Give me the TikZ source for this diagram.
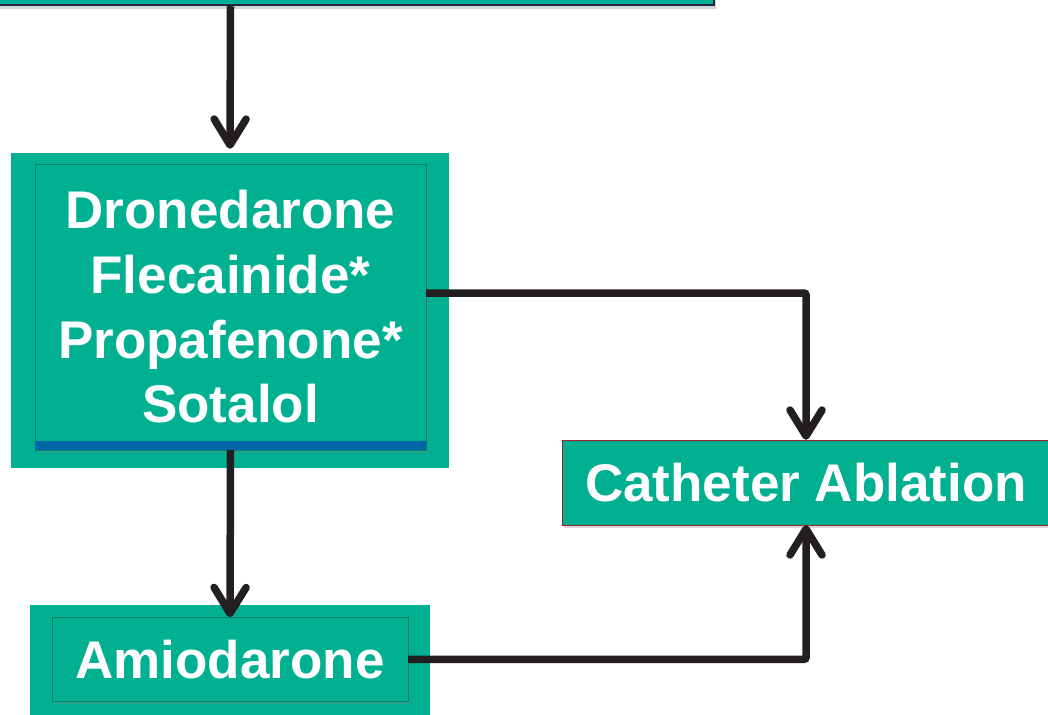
\documentclass[tikz,border=0pt]{standalone}
\usepackage{fontspec}
\setmainfont{Liberation Sans}
\usepackage{tikz}
\usetikzlibrary{arrows.meta,positioning,shadows}
\definecolor{afteal}{RGB}{0,176,144}
\definecolor{afdarkteal}{RGB}{0,130,106}
\definecolor{afblue}{RGB}{0,102,166}
\definecolor{afnavy}{RGB}{30,38,70}
\definecolor{afline}{RGB}{35,31,32}
\definecolor{afred}{RGB}{170,30,40}
\tikzstyle{drugbox} = [rectangle, text centered, align=center, fill=afteal, draw=afdarkteal, thin, text=white, inner sep=0pt, font=\fontsize{53}{64.7}\selectfont\bfseries, drop shadow={shadow xshift=1.5pt, shadow yshift=-3pt, opacity=0.3}]
\tikzstyle{backbox} = [rectangle, fill=afteal, inner sep=0pt]
\tikzstyle{arrow} = [line width=7.5pt, ->, >={Straight Barb[length=26pt, width=32pt, round]}, color=afline, rounded corners=2pt]

\begin{document}
\begin{tikzpicture}[x=1pt, y=-1pt]
\useasboundingbox (0,0) rectangle (1048,714);
\clip (0,0) rectangle (1048,714);
% boxes
\node (top) [rectangle, fill=afteal, draw=afnavy, line width=2.5pt, minimum width=724pt, minimum height=90pt, drop shadow={shadow xshift=2pt, shadow yshift=-4pt, opacity=0.35}] at (352,-40) {};
\node (droneback) [backbox, minimum width=438pt, minimum height=315pt] at (230,310.5) {};
\node (drone) [drugbox, minimum width=391pt, minimum height=286pt] at (230.5,307) {Dronedarone\\Flecainide*\\Propafenone*\\Sotalol};
\fill[afblue] (drone.south west) rectangle ([yshift=9pt]drone.south east);
\node (amioback) [backbox, minimum width=400pt, minimum height=120pt, below=155pt of droneback.south |- drone.south, anchor=north] {};
\node (amio) [drugbox, minimum width=356pt, minimum height=84pt] at ([yshift=6pt]amioback.center) {Amiodarone};
\node (cath) [drugbox, draw=afred, minimum width=488pt, minimum height=85pt] at (806,482.5) {Catheter Ablation};
% connectors
\draw[arrow, shorten >=4pt] (top.south -| drone.north) -- (droneback.north);
\draw[arrow] (drone.south) -- (amio.north);
\draw[arrow] ([yshift=14pt]drone.east) -| (cath.north);
\draw[arrow] (amio.east) -| (cath.south);
\end{tikzpicture}
\end{document}
